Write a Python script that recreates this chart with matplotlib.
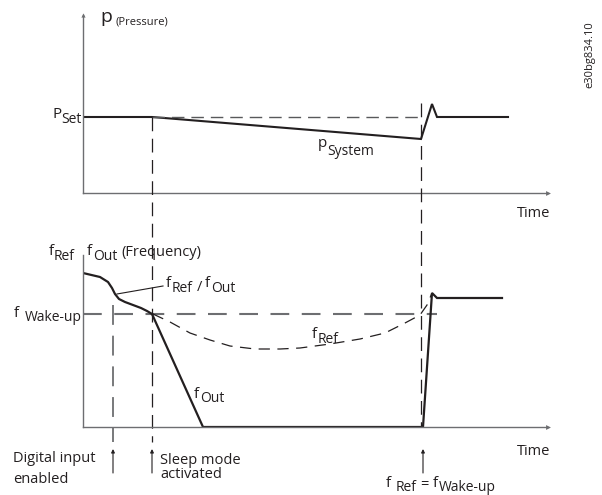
import matplotlib.pyplot as plt
import matplotlib.transforms as mtransforms

plt.rcParams['font.family'] = ['Open Sans', 'DejaVu Sans']

W, H = 602, 495

# schematic time axis (0 = y-axis, 465 = end of arrow)
t_max = 465
t_digital = 30
t_sleep = 69
t_wake = 339

# top panel: pressure
p_max = 178
p_set = 76
p_time = [0, 69, 338, 349, 354, 425]
p_system = [76, 76, 54, 89, 76, 76]

# bottom panel: frequency
f_max = 172
f_wakeup = 113
shared_t = [0, 17, 25, 29, 32, 36, 42, 50, 58, 64, 69]
shared_f = [154, 150, 145, 139, 133, 128, 125, 122, 119, 116, 113]
f_out_t = [69, 120, 340, 349, 354, 419]
f_out = [113, 0, 0, 134, 129, 129]
f_ref_t = [70, 87, 107, 127, 147, 172, 197, 217, 247, 277, 302, 322, 337, 344, 349]
f_ref = [113, 105, 94, 87, 81, 78, 78, 79, 83, 88, 94, 104, 112, 122, 134]

INK = '#231f20'
AXC = '#6d6e71'
DASH = '#58595b'

fig = plt.figure(figsize=(W / 100, H / 100), dpi=100)
px = mtransforms.Affine2D().scale(1 / W, -1 / H).translate(0, 1) + fig.transFigure


def place(x0, y0, x1, y1):
    return fig.add_axes([x0 / W, 1 - y1 / H, (x1 - x0) / W, (y1 - y0) / H])


def label(x, y, s, size=10.5, **kw):
    # y is the text baseline, in pixels from the top
    fig.text(x, y, s, transform=px, fontsize=size, va='baseline', ha='left', color=INK, **kw)


def frame(ax, top_arrow):
    ax.set_facecolor('none')
    for side in ['top', 'right']:
        ax.spines[side].set_visible(False)
    for side in ['left', 'bottom']:
        ax.spines[side].set_color(AXC)
        ax.spines[side].set_linewidth(1.0)
    ax.set_xticks([])
    ax.set_yticks([])
    ax.plot(1, 0, '>', transform=ax.transAxes, clip_on=False, ms=3.5, color=AXC, mew=0)
    if top_arrow:
        ax.plot(0, 1, '^', transform=ax.transAxes, clip_on=False, ms=3.0, color=AXC, mew=0)


# ---- top panel
ax1 = place(83, 15, 548, 193)
ax1.set_xlim(0, t_max)
ax1.set_ylim(0, p_max)
frame(ax1, True)
ax1.plot(p_time, p_system, color=INK, lw=1.5, solid_joinstyle='miter')
ax1.plot([t_sleep, t_wake - 1], [p_set, p_set], color=DASH, lw=1.0, dashes=(9, 5))

# ---- bottom panel
ax2 = place(83, 255, 548, 427)
ax2.set_xlim(0, t_max)
ax2.set_ylim(0, f_max)
frame(ax2, False)
ax2.plot([0, 354], [f_wakeup, f_wakeup], color=AXC, lw=1.5, dashes=(9, 6))
ax2.plot(f_ref_t, f_ref, color=INK, lw=0.9, dashes=(9, 6))
ax2.plot(shared_t, shared_f, color=INK, lw=1.6)
ax2.plot(f_out_t, f_out, color=INK, lw=1.6, solid_joinstyle='miter')

# event markers crossing both panels (bottom-panel units)
ax2.plot([t_sleep, t_sleep], [310, -15], color=INK, lw=0.9, dashes=(11, 6), clip_on=False)
ax2.plot([t_wake - 1, t_wake - 1], [324, 0], color=INK, lw=0.9, dashes=(11, 6), clip_on=False)
ax2.plot([t_digital, t_digital], [122, -15], color=AXC, lw=1.3, dashes=(11, 6), clip_on=False)
for t in [t_digital, t_sleep, t_wake + 1]:
    ax2.annotate('', xy=(t, -22), xytext=(t, -46), annotation_clip=False,
                 arrowprops=dict(arrowstyle='-|>', color=INK, lw=0.8,
                                 mutation_scale=5, shrinkA=0, shrinkB=0))

# leader line for f_Ref / f_Out
ax2.plot([34, 80], [133, 141], color=INK, lw=0.8)

# ---- texts
label(100, 22, 'p', 14)
label(115, 25, '(Pressure)', 8)
label(52, 118, 'P', 11)
label(61, 123, 'Set', 10)
label(318, 147, 'p', 11)
label(327, 155, 'System', 10)
label(517, 217, 'Time', 10.5)

label(49, 255, 'f', 11)
label(54, 260, 'Ref', 10)
label(87, 255, 'f', 11)
label(93, 260, 'Out', 10)
label(121, 256, '(Frequency)', 10.5)

label(166, 287, 'f', 11)
label(172, 292, 'Ref', 10)
label(197, 291, '/', 10.5)
label(205, 287, 'f', 11)
label(211, 292, 'Out', 10)

label(14, 317, 'f', 11)
label(25, 321, 'Wake-up', 10)

label(312, 338, 'f', 11)
label(318, 343, 'Ref', 10)

label(194, 398, 'f', 11)
label(200, 402, 'Out', 10)

label(517, 455, 'Time', 10.5)

label(13, 462, 'Digital input', 10.5)
label(13, 483, 'enabled', 10.5)
label(160, 464, 'Sleep mode', 10.5)
label(160, 478, 'activated', 10.5)

label(386, 487, 'f', 11)
label(396, 491, 'Ref', 10)
label(420, 488, '=', 10.5)
label(433, 487, 'f', 11)
label(439, 491, 'Wake-up', 10)

fig.text(590, 55, 'e30bg834.10', transform=px, fontsize=8, rotation=90,
         ha='center', va='center', color=INK)

fig.savefig('out.png', dpi=100)
